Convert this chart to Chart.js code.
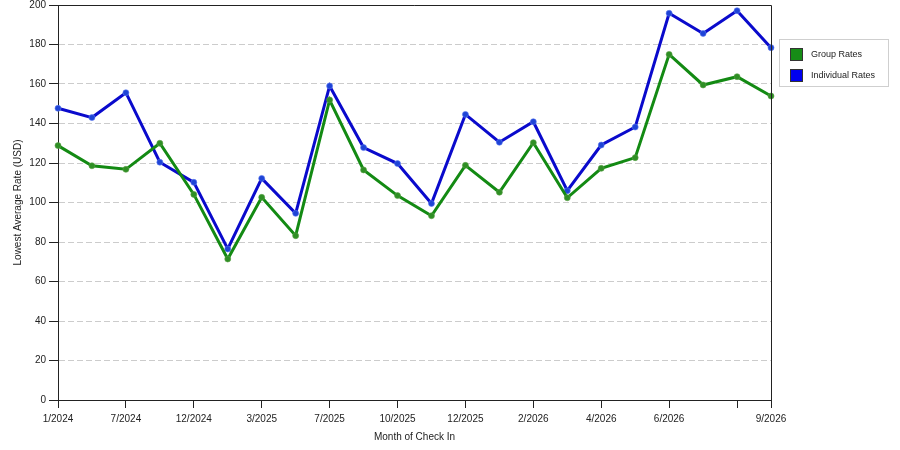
<!DOCTYPE html>
<html>
<head>
<meta charset="utf-8">
<script src="https://cdn.jsdelivr.net/npm/chart.js@4"></script>
<style>
    html, body { margin: 0; padding: 0; background: #fff; }
    #wrap { position: relative; width: 900px; height: 450px; }
    #legend {
        position: absolute; left: 779px; top: 39px; width: 108px; height: 46px;
        border: 1px solid #cfcfcf; font: 9px "Liberation Sans", Arial, sans-serif; color: #222;
    }
    .item { position: absolute; left: 10px; height: 12px; line-height: 12px; }
    .item span.sw { position: absolute; left: 0; top: 0; width: 11px; height: 11px; border: 1px solid #333; }
    .item span.tx { position: absolute; left: 21px; top: 0; white-space: nowrap; }
</style>
</head>
<body>
<div id="wrap">
    <canvas id="rateChart" width="900" height="450"></canvas>
    <div id="legend"></div>
</div>
<script>
const months = ['1/2024', '', '7/2024', '', '12/2024', '', '3/2025', '', '7/2025', '', '10/2025', '',
    '12/2025', '', '2/2026', '', '4/2026', '', '6/2026', '', '', '9/2026'];
const groupRates = [128.8, 118.6, 116.8, 130, 104.1, 71.4, 102.6, 83.2, 151.9, 116.5, 103.5, 93.3,
    118.8, 105.2, 130.3, 102.4, 117.3, 122.7, 175, 159.5, 163.7, 153.9];
const individualRates = [147.7, 143, 155.6, 120.4, 110.2, 76.5, 112.2, 94.5, 159, 127.8, 119.7, 99.5,
    144.6, 130.5, 140.9, 106, 129.1, 138.2, 195.8, 185.6, 197.1, 178.4];
const seriesNames = ['Group Rates', 'Individual Rates'];
const yTicks = [0, 20, 40, 60, 80, 100, 120, 140, 160, 180, 200];

const FONT = '"Liberation Sans", Arial, sans-serif';

// top/right frame around the plot
const framePlugin = {
    id: 'frame',
    afterDraw(chart) {
        const { ctx, chartArea: a } = chart;
        ctx.save();
        ctx.strokeStyle = '#222';
        ctx.lineWidth = 1;
        ctx.beginPath();
        ctx.moveTo(a.left, a.top + 0.5);
        ctx.lineTo(a.right + 0.5, a.top + 0.5);
        ctx.lineTo(a.right + 0.5, a.bottom);
        ctx.stroke();
        ctx.restore();
    }
};

const chart = new Chart(document.getElementById('rateChart'), {
    type: 'line',
    data: {
        labels: months,
        datasets: [{
            label: seriesNames[0],
            data: groupRates,
            borderColor: '#138a13',
            backgroundColor: '#168c16',
            borderWidth: 3,
            pointRadius: 3,
            pointBackgroundColor: '#2f8f25',
            pointBorderColor: 'rgba(90,160,70,0.6)',
            pointBorderWidth: 1,
            tension: 0
        }, {
            label: seriesNames[1],
            data: individualRates,
            borderColor: '#0a0acc',
            backgroundColor: '#0000f0',
            borderWidth: 3,
            pointRadius: 3,
            pointBackgroundColor: '#1f44d6',
            pointBorderColor: 'rgba(90,120,240,0.6)',
            pointBorderWidth: 1,
            tension: 0
        }]
    },
    options: {
        responsive: false,
        animation: false,
        layout: { padding: { top: 5, right: 129, left: 0, bottom: 0 } },
        plugins: {
            legend: { display: false },
            tooltip: { enabled: false }
        },
        scales: {
            x: {
                offset: false,
                afterFit(s) { s.height = 50; },
                border: { display: true, color: '#222', width: 1 },
                grid: {
                    drawOnChartArea: false,
                    tickLength: 8,
                    tickWidth: 1,
                    tickColor: (c) => (c.index % 2 === 0 || c.index === months.length - 1) ? '#222' : 'rgba(0,0,0,0)'
                },
                ticks: {
                    autoSkip: false,
                    maxRotation: 0,
                    padding: 5,
                    color: '#222',
                    font: { family: FONT, size: 10 }
                },
                title: {
                    display: true,
                    text: 'Month of Check In',
                    color: '#222',
                    font: { family: FONT, size: 10 },
                    padding: { top: 0, bottom: 7 }
                }
            },
            y: {
                min: 0,
                max: 200,
                afterFit(s) { s.width = 58; s.paddingTop = 0; s.paddingBottom = 0; },
                afterBuildTicks(s) { s.ticks = yTicks.map(v => ({ value: v })); },
                border: { display: true, color: '#222', width: 1, dash: [6, 3] },
                grid: {
                    color: '#cccccc',
                    tickLength: 9,
                    tickColor: '#222',
                    tickBorderDash: [1, 0]
                },
                ticks: {
                    padding: 3,
                    color: '#222',
                    font: { family: FONT, size: 10 }
                },
                title: {
                    display: true,
                    text: 'Lowest Average Rate (USD)',
                    color: '#222',
                    font: { family: FONT, size: 10 },
                    padding: { top: 12, bottom: 0 }
                }
            }
        }
    },
    plugins: [framePlugin]
});

// legend built from the chart's datasets
const legend = document.getElementById('legend');
chart.data.datasets.forEach((ds, i) => {
    const item = document.createElement('div');
    item.className = 'item';
    item.style.top = (8 + i * 21) + 'px';
    item.innerHTML = '<span class="sw" style="background:' + ds.backgroundColor + '"></span><span class="tx"></span>';
    item.querySelector('.tx').textContent = ds.label;
    legend.appendChild(item);
});
</script>
</body>
</html>
